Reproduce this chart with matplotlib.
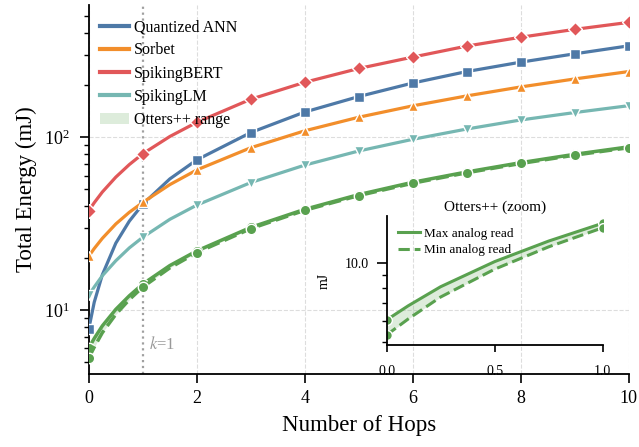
import matplotlib
matplotlib.use("Agg")
import matplotlib.pyplot as plt
from matplotlib.lines import Line2D
from matplotlib.patches import Patch
from matplotlib.ticker import FormatStrFormatter, NullFormatter

plt.rcParams['font.family'] = 'serif'
plt.rcParams['font.serif'] = ['Liberation Serif', 'DejaVu Serif']
plt.rcParams['mathtext.fontset'] = 'stix'

# values (energy in mJ vs number of hops)
hops = [0, 0.1, 0.25, 0.5, 0.75, 1, 1.5, 2, 3, 4, 5, 6, 7, 8, 9, 10]
quantized_ann = [7.8, 11.1, 16.0, 24.4, 32.7, 41.0, 57.4, 74, 106.5, 140, 172, 206, 240, 272, 304, 338]
sorbet = [20.5, 22.7, 26.0, 31.5, 36.8, 42.0, 53.2, 64.7, 87, 109, 130.6, 152, 173.5, 195.5, 217.5, 240]
spiking_bert = [37.6, 41.8, 48.2, 58.8, 69.5, 80.3, 101, 122, 166, 208, 250, 291, 337, 379, 421, 462]
spiking_lm = [12.2, 13.6, 15.8, 19.3, 22.9, 26.4, 33.5, 40.5, 54.7, 69, 83.3, 97.3, 111.6, 125.9, 139, 152.3]
otters_max = [6.05, 6.85, 8.1, 10.1, 12.1, 14.15, 18.1, 22, 30.1, 38.3, 46.6, 54.9, 63, 71.3, 79.7, 88]
otters_min = [5.3, 6.1, 7.4, 9.45, 11.5, 13.6, 17.55, 21.5, 29.6, 37.8, 46, 54.2, 62.3, 70.5, 78.8, 87]

names = ["Quantized ANN", "Sorbet", "SpikingBERT", "SpikingLM"]
series = [quantized_ann, sorbet, spiking_bert, spiking_lm]
colors = ["#4e79a7", "#f28e2b", "#e15759", "#76b7b2"]
markers = ["s", "^", "D", "v"]
green = "#59a14f"

# markers only at whole hops
mark_idx = [i for i, h in enumerate(hops) if float(h).is_integer()]

fig = plt.figure(figsize=(6.39, 4.47), dpi=100)
ax = fig.add_axes([0.139, 0.163, 0.845, 0.826])

for vals, c, m in zip(series, colors, markers):
    ax.plot(hops, vals, color=c, lw=2.3, marker=m, ms=7.5, markevery=mark_idx,
            markeredgecolor="white", markeredgewidth=1.0, zorder=3)

ax.fill_between(hops, otters_min, otters_max, color=green, alpha=0.2, lw=0, zorder=2)
ax.plot(hops, otters_max, color=green, lw=2.5, marker="o", ms=7.5, markevery=mark_idx,
        markeredgecolor="white", markeredgewidth=1.0, zorder=3)
ax.plot(hops, otters_min, color=green, lw=2.5, ls="--", marker="o", ms=7.5, markevery=mark_idx,
        markeredgecolor="white", markeredgewidth=1.0, zorder=3)

ax.axvline(1, color="#a0a0a0", ls=":", lw=1.6, zorder=1)
ax.text(1.12, 6.3, "$k$=1", color="#999999", fontsize=12, va="center", ha="left")

ax.set_yscale("log")
ax.set_xlim(0, 10)
ax.set_ylim(4.26, 583)
ax.set_xticks([0, 2, 4, 6, 8, 10])
ax.grid(True, which="major", ls="--", color="#dddddd", lw=0.8, zorder=0)
ax.set_axisbelow(True)
for s in ["top", "right"]:
    ax.spines[s].set_visible(False)
for s in ["left", "bottom"]:
    ax.spines[s].set_linewidth(1.3)
ax.tick_params(which="major", length=6.5, width=1.2, labelsize=13, pad=5)
ax.tick_params(axis="y", which="major", pad=7)
ax.tick_params(which="minor", length=3.6, width=1.0)
ax.set_xlabel("Number of Hops", fontsize=16.5, labelpad=6)
ax.set_ylabel("Total Energy (mJ)", fontsize=16.5, labelpad=5)

handles = [Line2D([], [], color=c, lw=3) for c in colors]
handles.append(Patch(facecolor=green, alpha=0.2, edgecolor="none"))
ax.legend(handles, names + ["Otters++ range"], loc="upper left", bbox_to_anchor=(-0.005, 1.0),
          frameon=False, fontsize=11.5, handlelength=1.8, handletextpad=0.3, labelspacing=0.45)

# inset: Otters++ between 0 and 1 hop
n = hops.index(1) + 1
ins = fig.add_axes([0.605, 0.228, 0.338, 0.289])
ins.patch.set_alpha(0)
ins.fill_between(hops[:n], otters_min[:n], otters_max[:n], color=green, alpha=0.2, lw=0)
ins.plot(hops[:n], otters_max[:n], color=green, lw=2.2, marker="o", ms=7, markevery=[0, n - 1],
         markeredgecolor="white", markeredgewidth=1.0)
ins.plot(hops[:n], otters_min[:n], color=green, lw=2.2, ls="--", marker="o", ms=7, markevery=[0, n - 1],
         markeredgecolor="white", markeredgewidth=1.0)
ins.set_yscale("log")
ins.set_xlim(0, 1)
ins.set_ylim(4.85, 15.1)
ins.set_xticks([0, 0.5, 1.0])
ins.yaxis.set_major_formatter(FormatStrFormatter("%.1f"))
ins.yaxis.set_minor_formatter(NullFormatter())
for s in ["top", "right"]:
    ins.spines[s].set_visible(False)
for s in ["left", "bottom"]:
    ins.spines[s].set_linewidth(1.3)
ins.tick_params(axis="x", which="major", length=5, width=1.2, labelsize=10, pad=9)
ins.tick_params(axis="y", which="major", length=7, width=1.2, labelsize=10, pad=6)
ins.tick_params(axis="y", which="minor", length=3.6, width=1.0)
ins.set_ylabel("mJ", fontsize=10, labelpad=10)
ins.set_title("Otters++ (zoom)", fontsize=11, pad=4)
ins_handles = [Line2D([], [], color=green, lw=2.2),
               Line2D([], [], color=green, lw=2.2, ls="--")]
ins.legend(ins_handles, ["Max analog read", "Min analog read"], loc="upper left", frameon=False,
           fontsize=9.5, handlelength=1.6, handletextpad=0.3, labelspacing=0.3)

fig.savefig("out.png", dpi=100)
